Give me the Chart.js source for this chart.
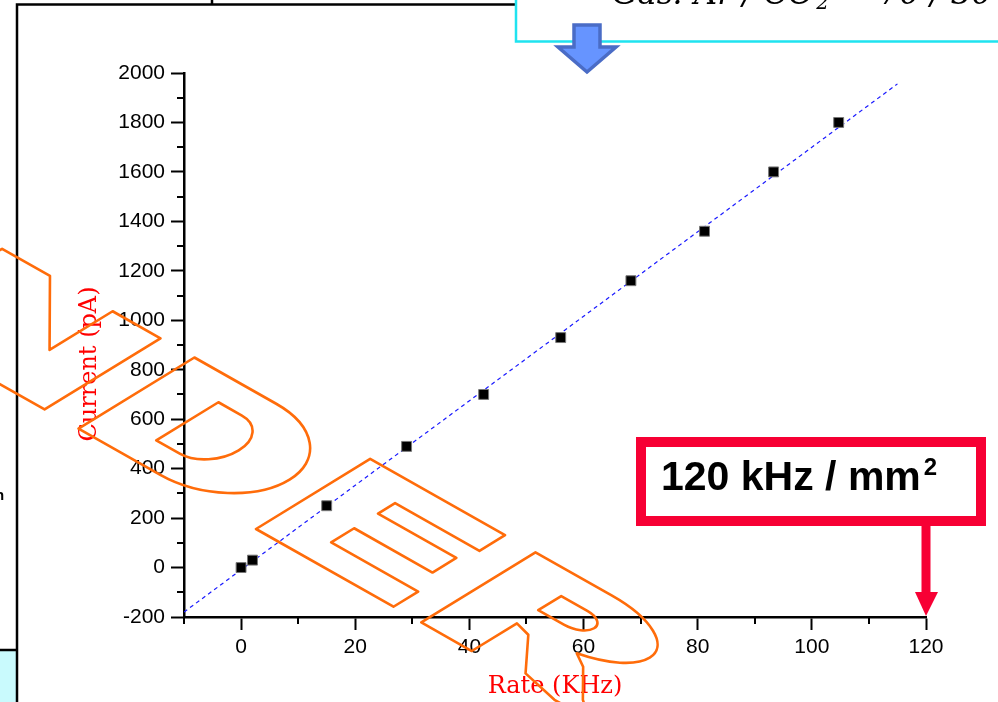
<!DOCTYPE html>
<html lang="en">
<head>
<meta charset="UTF-8" />
<title>Current vs Rate</title>
<script src="https://cdn.jsdelivr.net/npm/chart.js"></script>
<style>
  html, body { margin: 0; padding: 0; background: #fff; overflow: hidden; }
  #wrap { width: 998px; height: 702px; }
</style>
</head>
<body>
<div id="wrap"><canvas id="rateChart" width="998" height="702"></canvas></div>
<script>
  // measured points: counting rate (KHz) vs anode current (pA)
  const rates = [0, 2, 15, 29, 42.5, 56, 68.3, 81.2, 93.3, 104.7];
  const currents = [0, 30, 250, 490, 700, 930, 1160, 1360, 1600, 1800];

  // end points of the linear fit line
  const fitRates = [-10, 115];
  const fitCurrents = [-180, 1956];

  // labelled ticks (the others are minor)
  const xTicks = [0, 20, 40, 60, 80, 100, 120];
  const yTicks = [-200, 0, 200, 400, 600, 800, 1000, 1200, 1400, 1600, 1800, 2000];

  const tickFont = { family: '"Liberation Sans", Arial, sans-serif', size: 21 };
  const orange = '#ff6c0a';
  const red = '#f70034';

  function poly(ctx, pts) {
    ctx.moveTo(pts[0][0], -pts[0][1]);
    for (let i = 1; i < pts.length; i++) ctx.lineTo(pts[i][0], -pts[i][1]);
    ctx.closePath();
  }

  // slanted outline lettering laid over the plot
  function drawLettering(ctx) {
    ctx.save();
    ctx.beginPath();
    ctx.setTransform(0.870, 0.492, -0.852, 0.523, 256, 529);
    // N
    poly(ctx, [[-425, 0], [-425, 136], [-370, 136], [-298, 62], [-298, 136], [-243, 136],
               [-243, 0], [-298, 0], [-370, 74], [-370, 0]]);
    // D
    ctx.moveTo(-204, 0);
    ctx.lineTo(-204, -136);
    ctx.lineTo(-110, -136);
    ctx.ellipse(-110, -68, 82, 68, 0, -Math.PI / 2, Math.PI / 2);
    ctx.closePath();
    ctx.moveTo(-146, -32);
    ctx.lineTo(-146, -105);
    ctx.lineTo(-119, -105);
    ctx.ellipse(-119, -68.5, 32, 36.5, 0, -Math.PI / 2, Math.PI / 2);
    ctx.closePath();
    // E
    poly(ctx, [[0, 0], [0, 134], [155, 134], [155, 104], [58, 104], [58, 84], [148, 84],
               [148, 56], [58, 56], [58, 29], [158, 29], [158, 0]]);
    // R
    ctx.moveTo(190, 0);
    ctx.lineTo(190, -134);
    ctx.lineTo(278, -134);
    ctx.ellipse(278, -93.5, 83, 40.5, 0, -Math.PI / 2, 1.134);
    ctx.lineTo(330, -47);
    ctx.lineTo(362, -14);
    ctx.lineTo(385, 2);
    ctx.lineTo(345, 2);
    ctx.lineTo(302, -8);
    ctx.lineTo(266, -48);
    ctx.lineTo(248, -53);
    ctx.lineTo(248, 0);
    ctx.closePath();
    ctx.moveTo(248, -78);
    ctx.lineTo(248, -105);
    ctx.lineTo(278, -105);
    ctx.ellipse(278, -91.5, 21, 13.5, 0, -Math.PI / 2, Math.PI / 2);
    ctx.closePath();
    ctx.setTransform(1, 0, 0, 1, 0, 0);
    ctx.strokeStyle = orange;
    ctx.lineWidth = 2.6;
    ctx.lineJoin = 'round';
    ctx.stroke();
    ctx.restore();
  }

  const backdrop = {
    id: 'backdrop',
    beforeDraw(chart) {
      const ctx = chart.ctx;
      ctx.save();
      ctx.fillStyle = '#fff';
      ctx.fillRect(0, 0, chart.width, chart.height);

      // slide frame
      ctx.fillStyle = '#c9fafd';
      ctx.fillRect(0, 650, 17, 52);
      ctx.strokeStyle = '#000';
      ctx.lineWidth = 2.5;
      ctx.beginPath();
      ctx.moveTo(0, 650); ctx.lineTo(17, 650);
      ctx.moveTo(17, 702); ctx.lineTo(17, 4.5); ctx.lineTo(516, 4.5);
      ctx.moveTo(212, 0); ctx.lineTo(212, 4.5);
      ctx.stroke();
      ctx.fillStyle = '#000';
      ctx.font = 'bold 15px "Liberation Sans", Arial, sans-serif';
      ctx.fillText('n', -5, 500);

      // gas box
      ctx.strokeStyle = '#1fe3f0';
      ctx.lineWidth = 2.5;
      ctx.beginPath();
      ctx.moveTo(516, -5); ctx.lineTo(516, 41.5); ctx.lineTo(1000, 41.5);
      ctx.stroke();
      ctx.fillStyle = '#000';
      ctx.font = 'italic 32px "DejaVu Serif", serif';
      ctx.textBaseline = 'alphabetic';
      ctx.fillText('Gas: Ar / CO', 612, 4);
      const w = ctx.measureText('Gas: Ar / CO').width;
      ctx.font = 'italic 20px "DejaVu Serif", serif';
      ctx.fillText('2', 612 + w + 2, 9);
      ctx.font = 'italic 32px "DejaVu Serif", serif';
      ctx.fillText('= 70 / 30', 612 + w + 28, 4);

      // down arrow under the gas box
      ctx.fillStyle = '#6694ff';
      ctx.strokeStyle = '#4a6cc6';
      ctx.lineWidth = 3.5;
      ctx.beginPath();
      ctx.moveTo(574, 25); ctx.lineTo(600, 25); ctx.lineTo(600, 47); ctx.lineTo(616, 47);
      ctx.lineTo(587, 72); ctx.lineTo(558, 47); ctx.lineTo(574, 47);
      ctx.closePath();
      ctx.fill();
      ctx.stroke();
      ctx.restore();
    },
    afterDraw(chart) {
      const {ctx, scales: {x, y}} = chart;
      ctx.save();

      // minor ticks
      ctx.strokeStyle = '#000';
      ctx.lineWidth = 2;
      ctx.beginPath();
      x.ticks.forEach(t => {
        if (xTicks.includes(t.value)) return;
        const px = Math.round(x.getPixelForValue(t.value));
        ctx.moveTo(px, y.bottom); ctx.lineTo(px, y.bottom + 7);
      });
      y.ticks.forEach(t => {
        if (yTicks.includes(t.value)) return;
        const py = Math.round(y.getPixelForValue(t.value));
        ctx.moveTo(x.left, py); ctx.lineTo(x.left - 7, py);
      });
      ctx.stroke();

      // axis titles
      ctx.fillStyle = '#ff0000';
      ctx.font = '24px "DejaVu Serif", serif';
      ctx.textAlign = 'center';
      ctx.textBaseline = 'middle';
      ctx.fillText('Rate (KHz)', (x.left + x.right) / 2, 687);
      ctx.translate(90, 364);
      ctx.rotate(-Math.PI / 2);
      ctx.fillText('Current (pA)', 0, 0);
      ctx.setTransform(1, 0, 0, 1, 0, 0);

      // rate callout pointing at 120 on the x axis
      const ax = x.getPixelForValue(120);
      ctx.strokeStyle = red;
      ctx.lineWidth = 10;
      ctx.strokeRect(641, 442, 340, 79);
      ctx.fillStyle = red;
      ctx.fillRect(ax - 4.5, 526, 9, 68);
      ctx.beginPath();
      ctx.moveTo(ax - 11, 592); ctx.lineTo(ax + 12, 592); ctx.lineTo(ax, y.bottom - 1);
      ctx.closePath();
      ctx.fill();
      ctx.fillStyle = '#000';
      ctx.font = 'bold 41px "Liberation Sans", Arial, sans-serif';
      ctx.textAlign = 'left';
      ctx.textBaseline = 'alphabetic';
      ctx.fillText('120 kHz / mm', 661, 490);
      const mw = ctx.measureText('120 kHz / mm').width;
      ctx.font = 'bold 24px "Liberation Sans", Arial, sans-serif';
      ctx.fillText('2', 661 + mw + 3, 475);
      ctx.restore();

      drawLettering(ctx);
    }
  };

  new Chart(document.getElementById('rateChart'), {
    type: 'scatter',
    data: {
      datasets: [
        {
          label: 'Current',
          data: rates.map((r, i) => ({ x: r, y: currents[i] })),
          pointStyle: 'rect',
          pointRadius: 7,
          pointBackgroundColor: '#000',
          pointBorderColor: '#777',
          pointBorderWidth: 1,
          order: 1
        },
        {
          type: 'line',
          label: 'Fit',
          data: fitRates.map((r, i) => ({ x: r, y: fitCurrents[i] })),
          borderColor: '#1a1aff',
          borderWidth: 1.2,
          borderDash: [4, 3.5],
          pointRadius: 0,
          fill: false,
          order: 2
        }
      ]
    },
    options: {
      responsive: false,
      animation: false,
      layout: { padding: { left: 0, top: 73, right: 72, bottom: 0 } },
      plugins: { legend: { display: false }, tooltip: { enabled: false } },
      scales: {
        x: {
          type: 'linear',
          min: -10,
          max: 120,
          afterFit: s => { s.height = 85; },
          border: { display: true, color: '#000', width: 2.5 },
          grid: {
            drawOnChartArea: false,
            tickLength: 13,
            tickWidth: 2,
            tickColor: c => xTicks.includes(c.tick.value) ? '#000' : 'rgba(0,0,0,0)'
          },
          ticks: {
            stepSize: 10,
            autoSkip: false,
            maxRotation: 0,
            padding: 5,
            color: '#000',
            font: tickFont,
            callback: v => xTicks.includes(v) ? String(v) : ''
          }
        },
        y: {
          min: -200,
          max: 2000,
          afterFit: s => { s.width = 184; },
          border: { display: true, color: '#000', width: 2.5 },
          grid: {
            drawOnChartArea: false,
            tickLength: 13,
            tickWidth: 2,
            tickColor: c => yTicks.includes(c.tick.value) ? '#000' : 'rgba(0,0,0,0)'
          },
          ticks: {
            stepSize: 100,
            autoSkip: false,
            padding: 6,
            color: '#000',
            font: tickFont,
            callback: v => yTicks.includes(v) ? String(v) : ''
          }
        }
      }
    },
    plugins: [backdrop]
  });
</script>
</body>
</html>
